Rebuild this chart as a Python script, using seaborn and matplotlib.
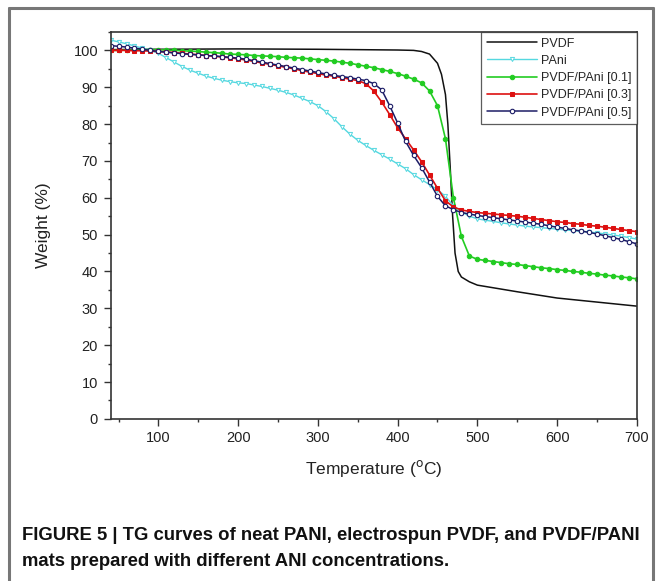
import numpy as np
import pandas as pd
import matplotlib
matplotlib.use("Agg")
import matplotlib.pyplot as plt
from matplotlib.lines import Line2D
from matplotlib.ticker import MultipleLocator
import seaborn as sns

# temperatures (deg C) for the marker series, read every 10 deg
temp = list(range(40, 701, 10))

# PVDF (no markers), read at irregular points
pvdf_temp = [40, 100, 200, 300, 400, 420, 430, 440, 450, 455, 460, 463, 466, 469,
             472, 476, 480, 490, 500, 550, 600, 650, 700]
pvdf_w = [100.2, 100.3, 100.4, 100.3, 100.1, 100.0, 99.7, 99.0, 96.5, 93.5, 88.0, 80.0,
          68.0, 55.0, 45.0, 40.0, 38.5, 37.2, 36.3, 34.5, 32.8, 31.7, 30.6]

pani_w = [102.8, 102.3, 101.8, 101.2, 100.6, 100.0, 99.2, 98.0, 96.8, 95.6,
          94.6, 93.8, 93.0, 92.4, 91.9, 91.5, 91.2, 91.0, 90.6, 90.2,
          89.7, 89.2, 88.6, 87.9, 87.0, 86.1, 85.0, 83.4, 81.5, 79.3,
          77.3, 75.6, 74.2, 72.9, 71.7, 70.5, 69.2, 67.9, 66.3, 64.9,
          63.6, 62.2, 60.4, 57.8, 56.2, 55.0, 54.3, 53.9, 53.6, 53.2,
          52.9, 52.6, 52.3, 52.1, 51.9, 51.7, 51.5, 51.3, 51.1, 50.9,
          50.7, 50.5, 50.2, 49.9, 49.6, 49.2, 48.8]

pp01_w = [100.0, 100.0, 100.1, 100.1, 100.2, 100.2, 100.2, 100.1, 100.0, 99.9,
          99.8, 99.7, 99.5, 99.4, 99.2, 99.0, 98.9, 98.8, 98.6, 98.5,
          98.4, 98.3, 98.1, 98.0, 97.9, 97.7, 97.5, 97.3, 97.1, 96.8,
          96.5, 96.1, 95.7, 95.3, 94.8, 94.3, 93.7, 93.0, 92.2, 91.2,
          89.0, 85.0, 76.0, 60.0, 49.5, 44.2, 43.3, 43.0, 42.7, 42.4,
          42.1, 41.9, 41.6, 41.3, 41.0, 40.8, 40.5, 40.3, 40.0, 39.8,
          39.5, 39.3, 39.0, 38.8, 38.5, 38.3, 38.0]

pp03_w = [100.0, 100.0, 100.0, 99.9, 99.9, 99.8, 99.7, 99.6, 99.4, 99.2,
          99.0, 98.8, 98.6, 98.4, 98.2, 98.0, 97.7, 97.4, 97.0, 96.6,
          96.2, 95.8, 95.4, 95.0, 94.5, 94.1, 93.7, 93.3, 93.0, 92.6,
          92.2, 91.8, 91.0, 89.0, 86.0, 82.6, 79.0, 76.0, 73.0, 69.8,
          66.2, 62.6, 59.2, 57.5, 56.7, 56.3, 56.0, 55.8, 55.6, 55.4,
          55.2, 55.0, 54.7, 54.4, 54.1, 53.8, 53.5, 53.3, 53.0, 52.8,
          52.5, 52.3, 52.0, 51.7, 51.4, 51.1, 50.8]

pp05_w = [101.3, 101.1, 100.9, 100.6, 100.3, 100.0, 99.7, 99.5, 99.3, 99.1,
          98.9, 98.8, 98.6, 98.5, 98.3, 98.1, 97.9, 97.6, 97.2, 96.8,
          96.4, 96.0, 95.6, 95.2, 94.8, 94.4, 94.0, 93.6, 93.2, 92.9,
          92.6, 92.2, 91.8, 91.0, 89.3, 85.0, 80.3, 75.3, 71.5, 68.2,
          64.3, 60.4, 57.8, 56.8, 56.0, 55.6, 55.2, 54.9, 54.6, 54.3,
          54.0, 53.7, 53.4, 53.1, 52.8, 52.4, 52.0, 51.7, 51.3, 51.0,
          50.6, 50.2, 49.7, 49.2, 48.7, 48.1, 47.5]

sns.set_style("ticks")
plt.rcParams["font.family"] = ["Liberation Sans", "DejaVu Sans"]

fig = plt.figure(figsize=(6.62, 5.81), dpi=100)
ax = fig.add_axes([0.167, 0.279, 0.795, 0.666])

sns.lineplot(x=pvdf_temp, y=pvdf_w, ax=ax, color="#111111", lw=1.1, label="PVDF")
sns.lineplot(x=temp, y=pani_w, ax=ax, color="#55d8e0", lw=1.0, marker="v",
             markersize=3, markerfacecolor="white", markeredgecolor="#55d8e0",
             markeredgewidth=0.7, label="PAni")
sns.lineplot(x=temp, y=pp01_w, ax=ax, color="#22cc22", lw=1.2, marker="o",
             markersize=3.2, markeredgecolor="#22cc22", label="PVDF/PAni [0.1]")
sns.lineplot(x=temp, y=pp03_w, ax=ax, color="#dd1111", lw=1.2, marker="s",
             markersize=3.2, markeredgecolor="#dd1111", label="PVDF/PAni [0.3]")
sns.lineplot(x=temp, y=pp05_w, ax=ax, color="#1c1c66", lw=1.1, marker="o",
             markersize=3.2, markerfacecolor="white", markeredgecolor="#1c1c66",
             markeredgewidth=0.8, label="PVDF/PAni [0.5]")

ax.set_xlim(40, 700)
ax.set_ylim(0, 105)
ax.xaxis.set_major_locator(MultipleLocator(100))
ax.xaxis.set_minor_locator(MultipleLocator(50))
ax.yaxis.set_major_locator(MultipleLocator(10))
ax.yaxis.set_minor_locator(MultipleLocator(5))
ax.tick_params(which="major", length=5, width=1, color="#333333", labelsize=10.5,
               pad=4, labelcolor="#222222")
ax.tick_params(which="minor", length=2.5, width=1, color="#333333")
for s in ax.spines.values():
    s.set_visible(True)
    s.set_color("#333333")
    s.set_linewidth(1.2)

ax.set_xlabel(r"Temperature ($^{\mathrm{o}}$C)", fontsize=12.5, color="#222222", labelpad=9)
ax.set_ylabel("Weight (%)", fontsize=12.5, color="#222222", labelpad=16)

leg = ax.legend(loc="upper right", borderaxespad=0, fancybox=False, fontsize=9,
                handlelength=4.0, handletextpad=0.3, labelspacing=0.42,
                borderpad=0.45, frameon=True)
leg.get_frame().set_edgecolor("#333333")
leg.get_frame().set_linewidth(0.9)

# outer frame of the figure panel
for xs, ys in [([9, 9], [0, 573]), ([9, 653], [573, 573]), ([653, 653], [573, 0])]:
    fig.add_artist(Line2D([x / 662 for x in xs], [y / 581 for y in ys],
                          color="#777777", lw=2.2))

cap_font = ["Liberation Sans Narrow", "Liberation Sans", "DejaVu Sans"]
fig.text(22 / 662, 1 - 535 / 581,
         "FIGURE 5 | TG curves of neat PANI, electrospun PVDF, and PVDF/PANI",
         fontsize=13.3, fontweight="bold", family=cap_font, va="center", color="#111111")
fig.text(22 / 662, 1 - 562 / 581, "mats prepared with different ANI concentrations.",
         fontsize=13.3, fontweight="bold", family=cap_font, va="center", color="#111111")

fig.savefig("out.png", dpi=100)
